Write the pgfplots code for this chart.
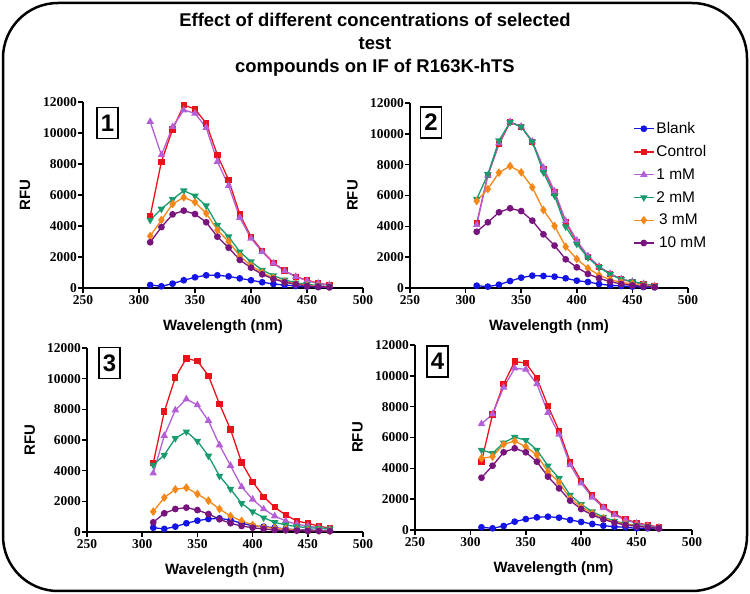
\documentclass[border=0pt]{standalone}
\usepackage{pgfplots}
\pgfplotsset{compat=1.18}
\usepackage{pgfplotstable}
\usepackage{fontspec}
\setmainfont{Liberation Sans}
\newfontfamily\serifb{Liberation Serif}

\definecolor{cblank}{RGB}{20,20,230}
\definecolor{cctrl}{RGB}{232,20,27}
\definecolor{cone}{RGB}{180,95,215}
\definecolor{ctwo}{RGB}{25,155,110}
\definecolor{cthree}{RGB}{245,135,25}
\definecolor{cten}{RGB}{120,20,125}

\pgfplotstableread{
wl blank ctrl m1 m2 m3 m10
310 190 4640 10730 4390 3350 2950
320 110 8150 8580 5100 4390 3930
330 280 10230 10400 5720 5420 4750
340 500 11800 11480 6280 5850 4990
350 690 11550 11270 5950 5530 4770
360 820 10620 10340 5310 4820 4240
370 820 8580 8150 4060 3740 3310
380 750 6970 6600 3310 2990 2600
390 620 4750 4540 2340 2060 1810
400 500 3310 3200 1700 1440 1310
410 370 2390 2340 1160 990 880
420 260 1630 1590 800 645 580
430 190 1120 1100 520 410 370
440 130 730 730 340 280 240
450 90 516 470 240 170 130
460 60 300 300 150 110 90
470 40 200 200 90 70 60
}\panelA

\pgfplotstableread{
wl blank ctrl m1 m2 m3 m10
310 150 4190 4100 5770 5640 3650
320 90 7330 7300 7370 6420 4260
330 215 9320 9400 9560 7480 4910
340 450 10750 10780 10750 7910 5170
350 670 10460 10480 10460 7500 4990
360 800 9490 9520 9490 6530 4370
370 780 7720 7800 7500 5060 3480
380 735 6200 6280 5990 4020 2750
390 630 4260 4350 3980 2680 1860
400 475 3000 3080 2850 1880 1340
410 390 2030 2080 1970 1280 910
420 260 1380 1400 1340 840 630
430 170 910 930 890 540 410
440 130 560 580 560 370 260
450 90 410 420 410 260 170
460 60 260 270 260 150 110
470 40 130 140 130 90 60
}\panelB

\pgfplotstableread{
wl blank ctrl m1 m2 m3 m10
310 280 4480 3830 4370 1330 630
320 200 7850 6280 5020 2240 1220
330 350 10080 7950 6110 2780 1500
340 570 11320 8670 6540 2890 1590
350 740 11150 8280 5930 2480 1430
360 850 10190 7260 4960 2040 1170
370 890 8350 5670 3650 1500 830
380 780 6690 4330 2800 1040 570
390 570 4540 2950 1870 720 390
400 410 3280 2130 1330 460 280
410 350 2300 1500 930 300 200
420 280 1610 1040 630 240 130
430 200 1110 720 460 200 110
440 150 720 500 350 130 90
450 130 565 390 280 110 65
460 110 390 280 240 90 65
470 90 240 200 200 65 50
}\panelC

\pgfplotstableread{
wl blank ctrl m1 m2 m3 m10
310 175 4430 6880 5190 4650 3390
320 110 7500 7520 4970 4760 4170
330 260 9470 9250 5660 5560 5040
340 540 10920 10490 6030 5770 5300
350 710 10830 10420 5820 5400 5040
360 820 9840 9470 5190 4860 4430
370 865 8040 7610 4170 3780 3460
380 800 6440 6200 3350 3090 2700
390 650 4430 4220 2270 2050 1900
400 520 3180 3030 1670 1510 1360
410 390 2230 2120 1190 1080 970
420 280 1510 1450 840 760 690
430 215 1040 970 580 520 475
440 175 690 650 410 370 325
450 110 475 430 300 280 240
460 110 325 280 215 195 175
470 90 195 175 130 110 110
}\panelD

\tikzset{
  numbox/.style={draw, line width=1.6bp, font=\fontsize{24}{24}\selectfont\bfseries, minimum width=21bp, minimum height=31bp, inner sep=0pt},
}

\pgfplotsset{
  panel/.style={
    scale only axis,
    anchor=south west,
    xmin=250, xmax=500, ymin=0, ymax=12000,
    xtick={250,300,...,500},
    ytick={0,2000,...,12000},
    axis lines=left,
    axis line style={-, line width=1.5bp, black},
    tick align=outside,
    xtick pos=bottom, ytick pos=left,
    major tick length=5bp,
    major tick style={line width=1.5bp, black},
    scaled ticks=false,
    /pgf/number format/set thousands separator={},
    /pgf/number format/assume math mode=true,
    tick label style={font=\fontsize{13.5}{13.5}\selectfont\serifb\bfseries},
    yticklabel style={inner sep=1bp},
    xticklabel style={inner sep=2bp},
    xlabel={Wavelength (nm)},
    ylabel={RFU},
    every axis x label/.style={at={(axis description cs:0.5,-0.21)}, anchor=center, font=\fontsize{15}{15}\selectfont\bfseries},
    every axis y label/.style={at={(axis description cs:-0.207,0.5)}, rotate=90, anchor=center, font=\fontsize{15}{15}\selectfont\bfseries},
    clip=false,
    every axis plot/.append style={line width=1.3bp, mark size=2.7bp},
  },
  sblank/.style={color=cblank, mark=*},
  sctrl/.style={color=cctrl, mark=square*, mark size=2.5bp},
  sone/.style={color=cone, mark=triangle*, mark size=3.1bp},
  stwo/.style={color=ctwo, mark=triangle*, mark size=3.1bp, mark options={rotate=180}},
  sthree/.style={color=cthree, mark=diamond*, mark size=3.3bp},
  sten/.style={color=cten, mark=*},
}

\newcommand{\allplots}[1]{%
  \addplot[sblank] table[x=wl,y=blank] {#1};
  \addplot[sctrl] table[x=wl,y=ctrl] {#1};
  \addplot[sone] table[x=wl,y=m1] {#1};
  \addplot[stwo] table[x=wl,y=m2] {#1};
  \addplot[sthree] table[x=wl,y=m3] {#1};
  \addplot[sten] table[x=wl,y=m10] {#1};
}

\begin{document}
\begin{tikzpicture}
\useasboundingbox (0bp,0bp) rectangle (750bp,594bp);
\draw[line width=2.5bp, rounded corners=55bp] (3bp,3bp) rectangle (747bp,591bp);

\node[align=center, font=\fontsize{18.5}{23}\selectfont\bfseries] at (375bp,549bp)
  {Effect of different concentrations of selected\\test\\compounds on IF of R163K-hTS};

% Panel 1
\begin{axis}[panel, at={(83bp,306bp)}, width=280bp, height=186bp]
\allplots{\panelA}
\node[numbox] at (axis description cs:0.0875,0.887) {1};
\end{axis}

% Panel 2
\begin{axis}[panel, at={(410bp,306bp)}, width=278bp, height=185bp,
  legend style={draw=none, fill=none, at={(axis description cs:0.802,0.907)}, anchor=north west,
    font=\fontsize{15.5}{15.5}\selectfont, row sep=6.5bp, inner sep=0pt},
  legend cell align=left,
  legend image code/.code={\draw[mark repeat=2,mark phase=2] plot coordinates {(0bp,0bp) (10bp,0bp) (20bp,0bp)};}]
\allplots{\panelB}
\legend{Blank, Control, 1 mM, 2 mM, {\,3 mM}, {\,10 mM}}
\node[numbox] at (axis description cs:0.0755,0.895) {2};
\end{axis}

% Panel 3
\begin{axis}[panel, at={(87bp,62bp)}, width=276bp, height=184bp]
\allplots{\panelC}
\node[numbox] at (axis description cs:0.0815,0.918) {3};
\end{axis}

% Panel 4
\begin{axis}[panel, at={(415bp,64bp)}, width=277bp, height=185bp]
\allplots{\panelD}
\node[numbox] at (axis description cs:0.081,0.91) {4};
\end{axis}
\end{tikzpicture}
\end{document}
